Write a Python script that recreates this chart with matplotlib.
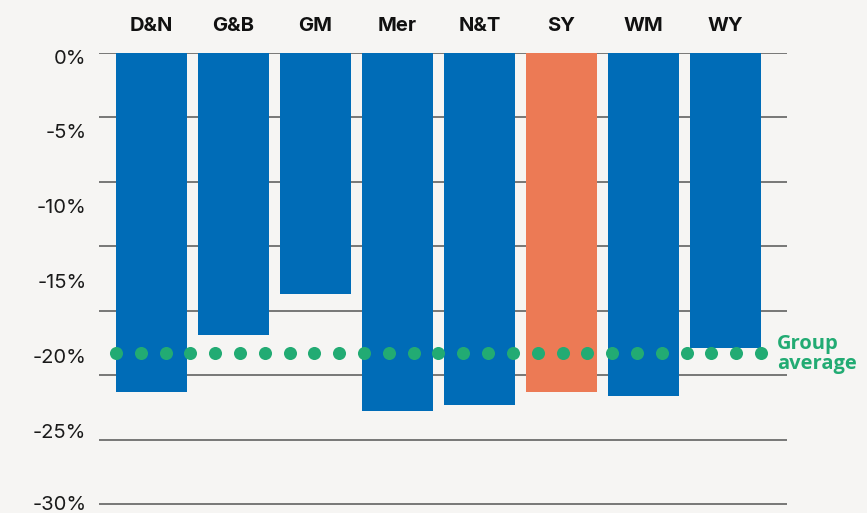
import numpy as np
import matplotlib
matplotlib.use("Agg")
import matplotlib.pyplot as plt
import matplotlib.transforms as mtransforms

plt.rcParams['font.family'] = ['Inter', 'DejaVu Sans']

regions = ["D&N", "G&B", "GM", "Mer", "N&T", "SY", "WM", "WY"]
change = [-22.6, -18.8, -16.1, -23.9, -23.5, -22.6, -22.9, -19.7]
group_avg = -20.0
highlight = "SY"
yticks = [0, -5, -10, -15, -20, -25, -30]

bg = '#f6f5f3'
blue = '#006cb7'
orange = '#ec7a55'
green = '#22ab73'

fig = plt.figure(figsize=(8.67, 5.13), dpi=100, facecolor=bg)
ax = fig.add_axes([99 / 867, 0, 688 / 867, 460 / 513])
ax.set_facecolor(bg)

x = np.arange(len(regions))
colors = [orange if r == highlight else blue for r in regions]

# grid lines (evenly spaced, slightly off the label positions as in the original)
for g in np.linspace(0, -30.1, 8):
    ax.axhline(g, color='#555555', lw=1.1, zorder=1)

ax.bar(x, change, width=0.866, color=colors, zorder=2)

# group average dotted line
xs = np.linspace(-0.433, len(regions) - 1 + 0.433, 27)
ax.plot(xs, [group_avg] * len(xs), 'o', ms=9.4, color=green, mec='none', zorder=3)
ax.text(len(regions) - 1 + 0.63, group_avg - 0.1, "Group\naverage", color=green,
        fontsize=14.5, fontweight='bold', va='center', ha='left',
        linespacing=1.0, clip_on=False, family=['Open Sans', 'DejaVu Sans'])

ax.set_xlim(-0.64, 7.75)
ax.set_ylim(-30.67, 0)

ax.set_yticks(yticks)
ax.set_yticklabels([f"{v}%" for v in yticks], fontsize=14.5, color='#1a1a1a')
ax.tick_params(axis='y', length=0, pad=9)
labels = ax.get_yticklabels()
for i, lbl in enumerate(labels):
    dy = -3.5 if i < len(labels) - 1 else 0  # keep the bottom label inside the figure
    shift = mtransforms.ScaledTranslation(0, dy / 100, fig.dpi_scale_trans)
    lbl.set_transform(lbl.get_transform() + shift)

ax.xaxis.tick_top()
ax.set_xticks(x)
ax.set_xticklabels(regions, fontsize=14.5, fontweight='bold', color='#111111')
ax.tick_params(axis='x', length=0, pad=13)

for s in ax.spines.values():
    s.set_visible(False)

fig.savefig("out.png", dpi=100, facecolor=bg)
